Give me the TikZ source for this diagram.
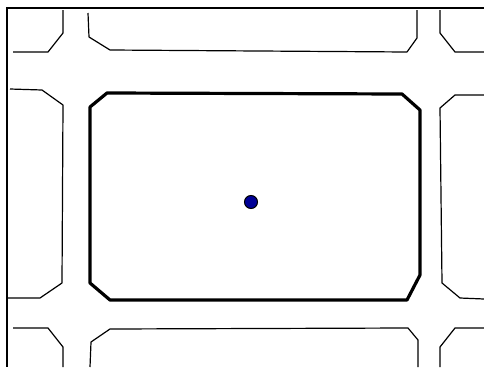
\documentclass[tikz,border=0pt]{standalone}
\begin{document}
\begin{tikzpicture}[x=1pt,y=-1pt,
  thinline/.style={line width=1.2pt,line join=round},
  thickline/.style={line width=3.2pt,line join=round},
  dotstyle/.style={circle,draw=black,fill={rgb,255:red,0;green,0;blue,150},line width=1pt,minimum size=13pt,inner sep=0pt}]
\useasboundingbox (0,0) rectangle (484,367);
% frame
\draw[line width=1.4pt] (6,8) -- (484,8);
\draw[line width=1.4pt] (7,8) -- (7,367);
% top row
\draw[thinline] (63,10) -- (63,33) -- (48,52) -- (13,52);
\draw[thinline] (88,13) -- (89,37) -- (110,50) -- (407,52) -- (417,38) -- (417,10);
\draw[thinline] (440,10) -- (440,33) -- (455,52) -- (484,52);
% middle row
\draw[thinline] (10,89) -- (42,90) -- (63,105) -- (62,283) -- (40,298) -- (8,298);
\draw[thickline] (107,93) -- (402,94) -- (420,110) -- (420,275) -- (407,300) -- (110,300) -- (90,283) -- (90,107) -- cycle;
\draw[thinline] (484,95) -- (455,95) -- (440,108) -- (442,283) -- (460,298) -- (484,299);
% bottom row
\draw[thinline] (13,328) -- (48,328) -- (63,347) -- (63,367);
\draw[thinline] (90,367) -- (91,342) -- (110,329) -- (408,328) -- (418,340) -- (418,367);
\draw[thinline] (440,367) -- (440,347) -- (455,328) -- (484,328);
% dot
\node[dotstyle] (dot) at (251,202) {};
\end{tikzpicture}
\end{document}
